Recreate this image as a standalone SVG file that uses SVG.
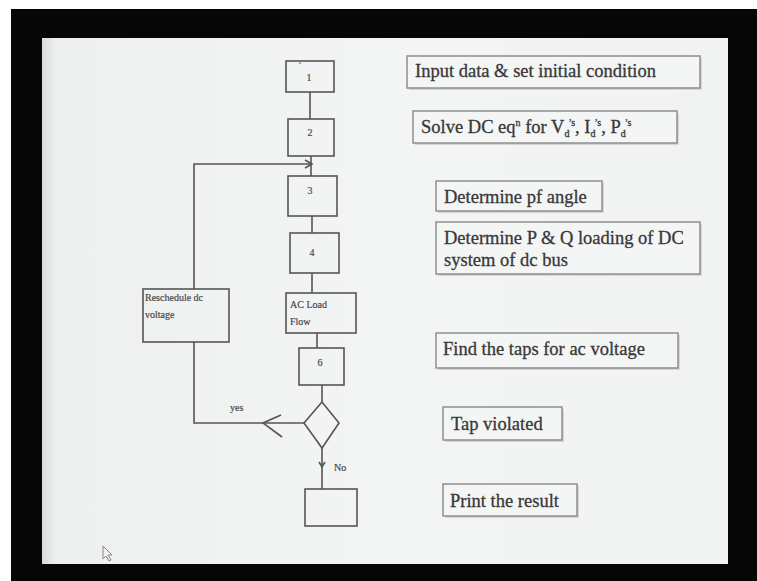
<svg xmlns="http://www.w3.org/2000/svg" width="757" height="581" viewBox="0 0 757 581">
<defs>
<linearGradient id="slide" x1="0" y1="0" x2="1" y2="0">
<stop offset="0" stop-color="#d9dada"/>
<stop offset="0.02" stop-color="#eeefef"/>
<stop offset="0.5" stop-color="#f3f4f4"/>
<stop offset="1" stop-color="#f1f2f2"/>
</linearGradient>
</defs>
<style>
.box{fill:none;stroke:#555;stroke-width:1.6}
.tbox{fill:#f4f5f5;stroke:#888;stroke-width:1.4}
.shadow{fill:#d6d6d6;stroke:none}
.line{fill:none;stroke:#555;stroke-width:1.6}
.t{font-family:"Liberation Serif","Times New Roman",serif;font-size:18.5px;fill:#383838;stroke:#383838;stroke-width:0.3}
.s{font-family:"Liberation Serif","Times New Roman",serif;font-size:10px;fill:#4a4a4a;stroke:#4a4a4a;stroke-width:0.2}
.n{font-family:"Liberation Serif","Times New Roman",serif;font-size:10px;fill:#4a4a4a;stroke:#4a4a4a;stroke-width:0.2;text-anchor:middle}
</style>
<rect x="0" y="0" width="757" height="581" fill="#ffffff"/>
<rect x="11" y="9" width="746" height="572" fill="#050605"/>
<rect x="42" y="38" width="686" height="526" fill="url(#slide)"/>

<g id="connectors">
<line class="line" x1="310" y1="92" x2="310" y2="119"/>
<line class="line" x1="311" y1="156" x2="311" y2="176"/>
<line class="line" x1="312" y1="216" x2="312" y2="233"/>
<line class="line" x1="312" y1="273" x2="312" y2="293"/>
<line class="line" x1="317" y1="333" x2="317" y2="348"/>
<line class="line" x1="322" y1="385" x2="322" y2="402"/>
<line class="line" x1="322" y1="448" x2="322" y2="489"/>
<polyline class="line" points="319,462 322,467 325,462"/>
<polyline class="line" points="304,423 194,423 194,342"/>
<polyline class="line" points="194,289 194,164 311,164"/>
<polyline class="line" points="305,160 312,164 305,168"/>
<polyline class="line" points="281,415 263,423 282,437"/>
<text class="s" x="230" y="411" font-size="11">yes</text>
<text class="s" x="334" y="471">No</text>
</g>

<g id="n1"><rect class="box" x="286" y="61" width="48" height="31"/><text class="n" x="300" y="70" font-size="8">`</text><text class="n" x="309" y="81">1</text></g>
<g id="n2"><rect class="box" x="288" y="119" width="46" height="37"/><text class="n" x="310" y="136">2</text></g>
<g id="n3"><rect class="box" x="288" y="176" width="49" height="40"/><text class="n" x="310" y="194">3</text></g>
<g id="n4"><rect class="box" x="290" y="233" width="49" height="40"/><text class="n" x="312" y="256">4</text></g>
<g id="n5"><rect class="box" x="286" y="293" width="70" height="40"/><text class="s" x="290" y="308" font-size="10.5">AC Load</text><text class="s" x="290" y="325" font-size="10.5">Flow</text></g>
<g id="n6"><rect class="box" x="299" y="348" width="45" height="37"/><text class="n" x="320" y="366">6</text></g>
<g id="reschedule"><rect class="box" x="143" y="289" width="86" height="53"/><text class="s" x="145" y="301">Reschedule dc</text><text class="s" x="145" y="318">voltage</text></g>
<g id="decision"><polygon class="box" points="322,402 339,423 322,448 304,423"/></g>
<g id="n7"><rect class="box" x="305" y="489" width="52" height="37"/></g>

<g id="l1"><rect class="shadow" x="409" y="58" width="293" height="32"/><rect class="tbox" x="407" y="56" width="293" height="32"/><text class="t" x="415" y="77">Input data &amp; set initial  condition</text></g>
<g id="l2"><rect class="shadow" x="415" y="113" width="264" height="32"/><rect class="tbox" x="413" y="111" width="264" height="32"/><text class="t" x="421" y="133">Solve DC eq<tspan font-size="10" dy="-7">n</tspan><tspan dy="7"> for V</tspan><tspan font-size="10" dy="4">d</tspan><tspan font-size="10" dy="-11" dx="-1">’s</tspan><tspan dy="7">, I</tspan><tspan font-size="10" dy="4">d</tspan><tspan font-size="10" dy="-11" dx="-1">’s</tspan><tspan dy="7">, P</tspan><tspan font-size="10" dy="4">d</tspan><tspan font-size="10" dy="-11" dx="-1">’s</tspan></text></g>
<g id="l3"><rect class="shadow" x="438" y="183" width="166" height="30"/><rect class="tbox" x="436" y="181" width="166" height="30"/><text class="t" x="444" y="203">Determine pf angle</text></g>
<g id="l4"><rect class="shadow" x="438" y="224" width="264" height="52"/><rect class="tbox" x="436" y="222" width="264" height="52"/><text class="t" x="444" y="244">Determine P &amp; Q loading of DC</text><text class="t" x="444" y="266">system of dc bus</text></g>
<g id="l5"><rect class="shadow" x="438" y="335" width="242" height="35"/><rect class="tbox" x="436" y="333" width="242" height="35"/><text class="t" x="443" y="355">Find the taps for ac voltage</text></g>
<g id="l6"><rect class="shadow" x="445" y="409" width="119" height="33"/><rect class="tbox" x="443" y="407" width="119" height="33"/><text class="t" x="451" y="430">Tap violated</text></g>
<g id="l7"><rect class="shadow" x="445" y="486" width="134" height="32"/><rect class="tbox" x="443" y="484" width="134" height="32"/><text class="t" x="450" y="507">Print the result</text></g>

<path d="M103,546 L103,559 L106,556 L109,561 L111,560 L108,555 L112,555 Z" fill="none" stroke="#888" stroke-width="1"/>
</svg>
